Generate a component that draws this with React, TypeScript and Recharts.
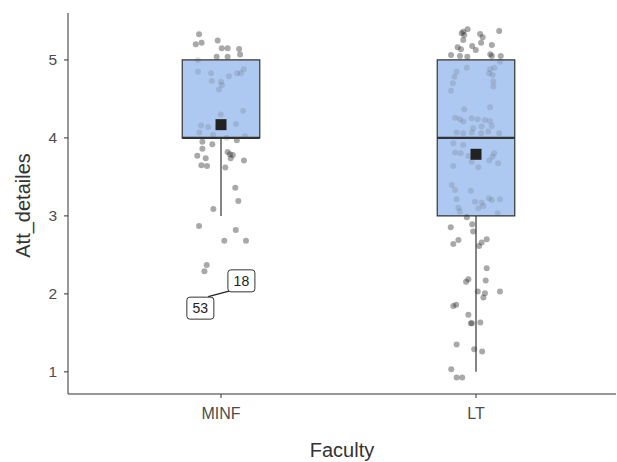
import React from "react";
import {
  ComposedChart,
  Scatter,
  XAxis,
  YAxis,
  ReferenceArea,
  ReferenceLine,
} from "recharts";

const faculties = ["MINF", "LT"];
const yTicks = [1, 2, 3, 4, 5];

// jittered points: [x offset from category, value]
const minfPoints = [
  [-0.086, 5.33], [-0.099, 5.2], [-0.076, 5.22], [-0.013, 5.25], [0.003, 5.15],
  [0.026, 5.15], [0.071, 5.14], [0.075, 5.07], [-0.017, 5.04], [0.026, 5.04],
  [-0.091, 5.0], [-0.09, 4.85], [-0.039, 4.83], [-0.036, 4.73], [0.0, 4.72],
  [0.004, 4.68], [-0.008, 4.62], [0.031, 4.79], [0.063, 4.83], [0.078, 4.83],
  [0.089, 4.88], [-0.001, 4.3], [0.087, 4.35], [-0.078, 4.16], [-0.05, 4.14],
  [0.059, 4.18], [-0.085, 4.07], [-0.031, 4.04], [0.022, 4.0], [0.062, 3.97],
  [0.094, 4.02], [-0.073, 3.95], [-0.034, 3.92], [-0.073, 3.86], [-0.093, 3.77],
  [-0.06, 3.74], [0.026, 3.82], [0.035, 3.79], [0.046, 3.78], [0.038, 3.74],
  [0.09, 3.71], [-0.077, 3.65], [-0.055, 3.64], [0.017, 3.62], [0.056, 3.36],
  [0.068, 3.19], [-0.03, 3.09], [-0.086, 2.87], [0.058, 2.82], [0.013, 2.68],
  [0.098, 2.68], [-0.056, 2.37], [-0.065, 2.29],
];

const ltPoints = [
  [-0.05, 5.363], [-0.033, 5.394], [-0.056, 5.342], [-0.046, 5.321], [-0.05, 5.256],
  [0.016, 5.333], [0.026, 5.291], [0.02, 5.222], [0.091, 5.372], [-0.072, 5.163],
  [-0.059, 5.137], [-0.015, 5.179], [-0.001, 5.128], [0.062, 5.192], [-0.098, 5.064],
  [-0.063, 5.051], [-0.034, 5.042], [0.056, 5.073], [0.062, 5.051], [0.097, 5.051],
  [-0.076, 4.85], [-0.085, 4.786], [-0.091, 4.701], [-0.098, 4.606], [-0.036, 4.901],
  [0.055, 4.881], [0.072, 4.901], [0.065, 4.808], [0.068, 4.722], [0.068, 4.658],
  [0.051, 4.829], [0.094, 4.978], [0.055, 4.394], [-0.046, 4.368], [-0.082, 4.26],
  [-0.063, 4.24], [-0.05, 4.209], [-0.017, 4.253], [0.007, 4.24], [0.035, 4.231],
  [0.055, 4.218], [0.062, 4.154], [0.022, 4.145], [-0.011, 4.124], [-0.076, 4.068],
  [-0.05, 4.06], [-0.017, 4.068], [0.02, 4.06], [0.048, 4.081], [0.091, 4.06],
  [-0.089, 3.932], [-0.05, 3.91], [-0.082, 3.812], [-0.06, 3.804], [-0.03, 3.769],
  [-0.017, 3.696], [0.009, 3.624], [-0.089, 3.641], [0.052, 3.709], [0.065, 3.76],
  [0.071, 3.804], [0.087, 3.676], [-0.095, 3.397], [-0.082, 3.333], [-0.02, 3.321],
  [-0.076, 3.214], [-0.004, 3.183], [0.022, 3.171], [0.029, 3.128], [0.051, 3.227],
  [0.062, 3.205], [0.094, 3.214], [-0.069, 3.106], [-0.063, 3.055], [0.009, 3.099],
  [0.085, 3.035], [-0.036, 2.983], [-0.099, 2.855], [-0.015, 2.894], [-0.011, 2.799],
  [-0.089, 2.641], [-0.069, 2.692], [0.022, 2.658], [0.042, 2.701], [0.012, 2.615],
  [0.042, 2.329], [-0.03, 2.188], [-0.039, 2.154], [0.038, 2.171], [0.007, 2.029],
  [0.035, 2.009], [0.029, 1.953], [0.094, 2.029], [-0.089, 1.846], [-0.078, 1.859],
  [-0.03, 1.731], [-0.02, 1.624], [-0.016, 1.624], [0.017, 1.632], [-0.076, 1.35],
  [-0.007, 1.291], [0.024, 1.26], [-0.097, 1.035], [-0.076, 0.927], [-0.054, 0.927],
];

// box stats per faculty
const q1 = [4, 3];
const medians = [4, 4];
const q3 = [5, 5];
const whiskerLow = [3, 1];
const whiskerHigh = [5, 5];
const means = [4.17, 3.79];

// labelled outliers (MINF, value 2)
const outlierIds = ["18", "53"];
const outlierLabelPos = [
  { x: 1.08, y: 2.167 },
  { x: 0.919, y: 1.817 },
];

const BOX_HALF = 0.152;
const font = "Arial, 'Liberation Sans', sans-serif";

// points that sit under the translucent box are drawn faded
const jitterData = [
  ...minfPoints.map(([dx, v]) => ({ x: 1 + dx, y: v, g: 0 })),
  ...ltPoints.map(([dx, v]) => ({ x: 2 + dx, y: v, g: 1 })),
];
const outsidePts = jitterData.filter((p) => p.y < q1[p.g] || p.y > q3[p.g]);
const insidePts = jitterData.filter((p) => p.y >= q1[p.g] && p.y <= q3[p.g]);
const meanData = means.map((m, i) => ({ x: i + 1, y: m }));
const labelData = outlierIds.map((id, i) => ({ ...outlierLabelPos[i], id }));

const Dot = (props: any) => (
  <circle cx={props.cx} cy={props.cy} r={3} fill="#333" fillOpacity={0.42} />
);

const FadedDot = (props: any) => (
  <circle cx={props.cx} cy={props.cy} r={3} fill="#333" fillOpacity={0.14} />
);

const MeanSquare = (props: any) => (
  <rect x={props.cx - 5.5} y={props.cy - 5.5} width={11} height={11} fill="#222" />
);

const LabelBox = (props: any) => (
  <g>
    <rect
      x={props.cx - 13.5}
      y={props.cy - 11}
      width={27}
      height={22}
      rx={3}
      fill="#fff"
      stroke="#333"
      strokeWidth={1}
    />
    <text
      x={props.cx}
      y={props.cy + 5}
      textAnchor="middle"
      fontSize={14}
      fontFamily={font}
      fill="#222"
    >
      {props.payload.id}
    </text>
  </g>
);

const YTitle = (props: any) => {
  const { x, y, height } = props.viewBox;
  const cx = x + 2;
  const cy = y + height / 2 + 2;
  return (
    <text
      x={cx}
      y={cy}
      transform={`rotate(-90, ${cx}, ${cy})`}
      textAnchor="middle"
      fontSize={20}
      fontFamily={font}
      fill="#333"
    >
      Att_detailes
    </text>
  );
};

const XTitle = (props: any) => {
  const { x, y, width } = props.viewBox;
  return (
    <text
      x={x + width / 2}
      y={y + 63}
      textAnchor="middle"
      fontSize={20}
      fontFamily={font}
      fill="#333"
    >
      Faculty
    </text>
  );
};

export default function App() {
  return (
    <div style={{ position: "absolute", left: 0, top: 0 }}>
      <ComposedChart
        width={617}
        height={462}
        margin={{ top: 13, right: 1, left: 28, bottom: 38 }}
      >
        <XAxis
          type="number"
          dataKey="x"
          domain={[0.4, 2.549]}
          ticks={[1, 2]}
          allowDataOverflow
          tickFormatter={(v) => faculties[v - 1]}
          height={30}
          tickSize={4}
          tickMargin={10}
          stroke="#333"
          tick={{ fill: "#4d4d4d", fontSize: 16, fontFamily: font }}
          label={{ content: <XTitle /> }}
        />
        <YAxis
          type="number"
          dataKey="y"
          domain={[0.716, 5.602]}
          ticks={yTicks}
          allowDataOverflow
          width={40}
          tickSize={4}
          tickMargin={7}
          stroke="#333"
          tick={{ fill: "#4d4d4d", fontSize: 15.5, fontFamily: font }}
          label={{ content: <YTitle /> }}
        />
        {faculties.map((f, i) => (
          <ReferenceArea
            key={"b" + f}
            x1={i + 1 - BOX_HALF}
            x2={i + 1 + BOX_HALF}
            y1={q1[i]}
            y2={q3[i]}
            fill="#8fb4ec"
            fillOpacity={0.72}
            stroke="#333"
            strokeWidth={1.2}
            strokeOpacity={1}
          />
        ))}
        {faculties.map((f, i) => (
          <ReferenceLine
            key={"wl" + f}
            segment={[
              { x: i + 1, y: whiskerLow[i] },
              { x: i + 1, y: q1[i] },
            ]}
            stroke="#333"
            strokeWidth={1.2}
          />
        ))}
        {faculties.map((f, i) =>
          whiskerHigh[i] > q3[i] ? (
            <ReferenceLine
              key={"wh" + f}
              segment={[
                { x: i + 1, y: q3[i] },
                { x: i + 1, y: whiskerHigh[i] },
              ]}
              stroke="#333"
              strokeWidth={1.2}
            />
          ) : null
        )}
        {faculties.map((f, i) => (
          <ReferenceLine
            key={"m" + f}
            segment={[
              { x: i + 1 - BOX_HALF, y: medians[i] },
              { x: i + 1 + BOX_HALF, y: medians[i] },
            ]}
            stroke="#333"
            strokeWidth={2.4}
          />
        ))}
        <ReferenceLine
          segment={[
            { x: 0.95, y: 1.965 },
            { x: 1.035, y: 2.038 },
          ]}
          stroke="#222"
          strokeWidth={1.2}
        />
        <Scatter data={outsidePts} shape={<Dot />} isAnimationActive={false} />
        <Scatter data={insidePts} shape={<FadedDot />} isAnimationActive={false} />
        <Scatter data={meanData} shape={<MeanSquare />} isAnimationActive={false} />
        <Scatter data={labelData} shape={<LabelBox />} isAnimationActive={false} />
      </ComposedChart>
    </div>
  );
}
